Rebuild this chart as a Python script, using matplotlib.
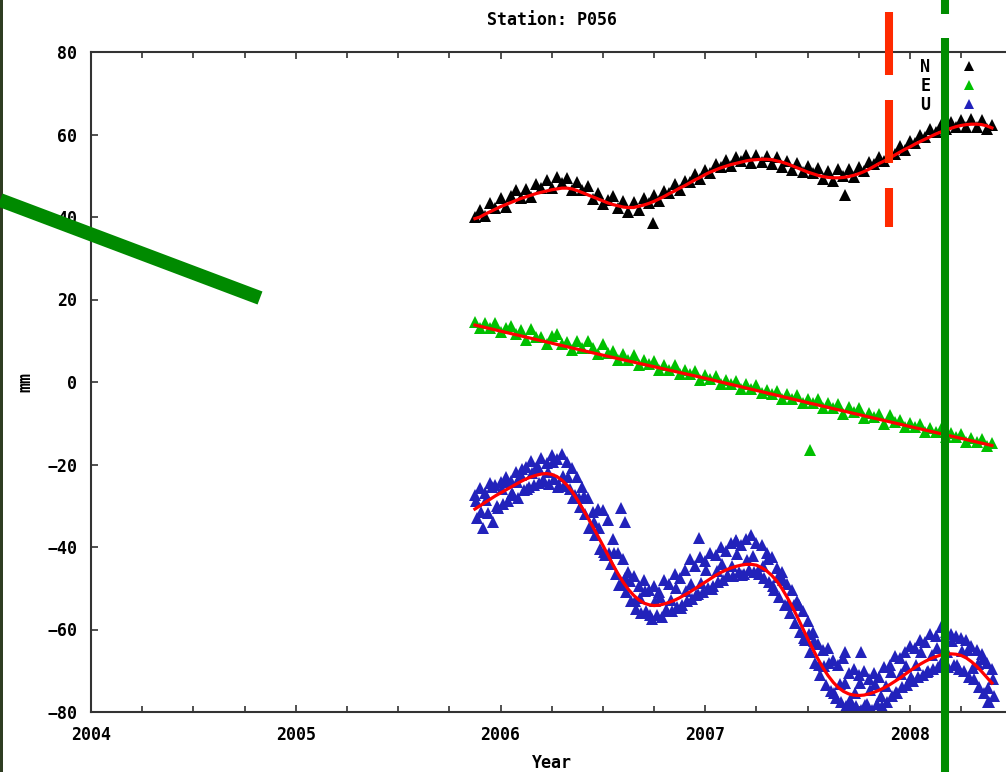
import numpy as np
import matplotlib
matplotlib.use("Agg")
import matplotlib.pyplot as plt
from matplotlib.lines import Line2D
from matplotlib.patches import Rectangle

years = np.round(np.arange(2005.875, 2008.4001, 0.025), 3)

north_obs = [40.1, 41.8, 40.2, 43.3, 42.2, 44.7, 42.4, 45.0, 46.6, 44.7,
             46.9, 44.9, 48.0, 47.0, 48.9, 47.0, 49.6, 48.2, 49.5, 46.5,
             48.6, 46.5, 47.4, 44.4, 45.7, 43.1, 44.2, 45.0, 42.1, 43.9,
             41.1, 43.6, 41.8, 44.7, 43.5, 45.4, 43.9, 46.2, 45.7, 48.0,
             46.6, 48.8, 48.5, 50.5, 49.1, 51.5, 50.6, 52.8, 52.2, 53.9,
             52.3, 54.5, 53.5, 55.0, 53.0, 55.1, 53.4, 54.8, 52.9, 54.6,
             52.1, 53.5, 51.4, 53.1, 50.9, 52.4, 50.7, 51.9, 49.2, 51.2,
             48.7, 51.7, 50.0, 51.6, 49.7, 52.1, 51.1, 53.4, 52.8, 54.6,
             53.6, 55.8, 55.3, 57.1, 56.2, 58.5, 57.9, 59.9, 59.3, 61.3,
             60.6, 62.2, 61.4, 63.0, 61.9, 63.4, 61.9, 63.8, 61.9, 63.6,
             61.3, 62.2]
north_fit = [39.6, 40.0, 40.7, 41.3, 41.9, 42.5, 43.0, 43.5, 44.0, 44.5,
             44.9, 45.3, 45.7, 46.0, 46.3, 46.6, 46.8, 47.0, 47.0, 46.8,
             46.4, 45.9, 45.4, 44.9, 44.4, 43.9, 43.4, 43.0, 42.7, 42.4,
             42.3, 42.3, 42.6, 42.9, 43.3, 43.8, 44.4, 45.0, 45.7, 46.3,
             47.0, 47.6, 48.3, 49.0, 49.6, 50.3, 50.9, 51.4, 51.9, 52.3,
             52.7, 53.0, 53.3, 53.6, 53.8, 53.9, 54.0, 54.0, 53.9, 53.6,
             53.3, 52.9, 52.4, 51.9, 51.4, 50.9, 50.5, 50.1, 49.8, 49.6,
             49.5, 49.5, 49.6, 49.8, 50.1, 50.5, 51.0, 51.6, 52.3, 53.0,
             53.6, 54.3, 55.0, 55.7, 56.4, 57.0, 57.7, 58.3, 58.9, 59.5,
             60.1, 60.6, 61.1, 61.5, 61.9, 62.2, 62.4, 62.5, 62.5, 62.4,
             62.1, 61.6]

east_obs = [14.6, 13.0, 14.4, 13.1, 14.2, 12.1, 13.0, 13.6, 11.6, 12.6,
            10.3, 12.8, 10.8, 11.0, 9.3, 11.1, 11.6, 9.2, 9.7, 7.8,
            9.9, 8.3, 10.0, 8.3, 6.8, 9.1, 7.1, 7.6, 5.4, 6.7,
            5.3, 6.6, 4.1, 5.4, 4.3, 5.2, 2.9, 4.1, 3.0, 4.1,
            1.9, 3.0, 1.9, 2.7, 0.6, 1.8, 0.7, 1.5, -0.6, 0.5,
            -0.6, 0.2, -1.7, -0.6, -1.6, -0.7, -2.7, -1.9, -3.0, -2.1,
            -4.1, -3.0, -4.0, -3.1, -5.2, -4.1, -5.0, -4.0, -6.2, -5.0,
            -6.4, -5.3, -7.7, -6.1, -7.3, -6.2, -8.7, -7.5, -8.6, -7.7,
            -10.1, -8.1, -9.7, -9.1, -11.0, -9.9, -10.9, -10.1, -12.2, -11.2,
            -12.2, -11.4, -13.3, -12.3, -13.3, -12.7, -14.5, -13.5, -14.6, -13.9,
            -15.6, -14.9]
east_fit_years = [2005.875, 2006.5, 2007.0, 2007.5, 2008.0, 2008.4]
east_fit = [13.8, 6.5, 0.9, -5.0, -10.8, -15.4]

up_obs_hi = [-27.5, -25.8, -27.0, -24.6, -25.0, -24.2, -23.0, -24.0, -21.8, -22.5,
             -20.5, -19.2, -20.8, -18.5, -19.6, -17.8, -18.6, -17.5, -19.5, -20.8,
             -23.0, -25.5, -28.0, -31.5, -30.8, -31.0, -33.5, -38.0, -41.5, -43.0,
             -46.0, -47.0, -49.5, -48.0, -50.5, -49.5, -51.0, -48.0, -49.0, -46.5,
             -47.5, -45.5, -43.0, -44.5, -42.5, -43.5, -41.5, -42.0, -40.0, -41.0,
             -39.0, -38.5, -39.5, -38.0, -37.0, -39.0, -39.5, -41.5, -42.5, -45.0,
             -46.0, -49.0, -50.5, -53.0, -55.5, -58.0, -60.5, -63.5, -65.0, -64.5,
             -67.5, -68.5, -67.0, -70.5, -69.5, -71.0, -70.0, -72.0, -70.5, -71.5,
             -69.0, -68.5, -66.5, -67.0, -65.5, -64.0, -64.5, -62.5, -63.0, -61.0,
             -61.5, -59.5, -60.5, -61.0, -61.5, -62.0, -62.5, -64.0, -65.0, -66.0,
             -68.0, -69.5]
up_obs_mid = [-28.8, -31.5, -28.7, -25.4, -30.1, -25.9, -24.2, -27.0, -24.3, -21.1,
              -26.0, -22.0, -20.6, -23.8, -21.7, -19.4, -25.4, -22.8, -23.0, -28.1,
              -28.0, -27.6, -35.3, -34.0, -35.3, -41.1, -41.5, -41.4, -49.1, -47.6,
              -48.3, -53.2, -52.3, -50.6, -56.5, -53.2, -52.1, -55.3, -52.9, -49.9,
              -54.8, -50.6, -48.9, -51.6, -48.8, -45.5, -50.2, -45.9, -44.2, -47.1,
              -44.6, -41.7, -46.9, -43.2, -42.2, -45.9, -44.5, -42.8, -49.4, -47.3,
              -48.1, -53.7, -54.0, -54.0, -62.1, -61.2, -62.7, -68.6, -68.8, -68.2,
              -75.3, -73.1, -73.0, -77.1, -75.4, -73.0, -78.4, -74.6, -73.2, -76.2,
              -73.6, -70.4, -75.1, -70.8, -68.9, -71.5, -68.7, -65.4, -70.2, -66.1,
              -64.6, -67.7, -65.5, -62.9, -68.5, -65.3, -64.9, -69.3, -68.4, -67.2,
              -74.1, -72.0]
up_obs_lo = [-33.0, -35.5, -31.8, -34.0, -30.5, -29.6, -28.8, -27.5, -28.0, -26.2,
             -25.5, -25.0, -24.6, -24.0, -24.8, -23.5, -25.0, -25.2, -26.0, -27.5,
             -30.2, -32.0, -35.5, -37.2, -40.5, -42.0, -44.0, -46.5, -49.0, -51.0,
             -53.0, -55.0, -56.0, -55.5, -57.5, -56.5, -57.0, -55.5, -55.5, -54.5,
             -54.0, -53.0, -52.5, -51.5, -51.0, -50.0, -49.5, -48.5, -48.0, -47.0,
             -47.0, -46.0, -46.5, -45.5, -46.0, -46.5, -47.5, -48.5, -50.5, -52.0,
             -54.0, -56.0, -58.5, -60.5, -62.5, -65.5, -68.0, -71.0, -73.5, -75.0,
             -76.5, -77.5, -78.5, -79.0, -78.5, -79.5, -78.0, -79.5, -78.0, -78.5,
             -77.5, -76.0, -75.5, -74.0, -73.5, -72.5, -71.5, -71.0, -70.0, -69.5,
             -69.0, -68.5, -69.0, -68.5, -69.5, -70.0, -71.5, -72.0, -74.0, -75.5,
             -77.5, -76.0]
up_fit = [-30.8, -30.0, -29.2, -28.4, -27.6, -26.9, -26.2, -25.5, -24.8, -24.1,
          -23.5, -23.0, -22.6, -22.3, -22.2, -22.4, -22.9, -23.8, -25.0, -26.6,
          -28.5, -30.6, -32.8, -35.0, -37.3, -39.6, -42.0, -44.4, -46.6, -48.6,
          -50.3, -51.7, -52.8, -53.6, -54.0, -54.2, -54.1, -53.8, -53.4, -52.9,
          -52.3, -51.6, -50.9, -50.1, -49.3, -48.5, -47.7, -46.9, -46.2, -45.6,
          -45.1, -44.7, -44.4, -44.2, -44.2, -44.4, -45.0, -45.8, -46.9, -48.3,
          -50.1, -52.2, -54.5, -57.0, -59.6, -62.2, -64.7, -67.1, -69.3, -71.2,
          -72.8, -74.1, -75.0, -75.6, -75.9, -76.0, -75.9, -75.6, -75.2, -74.7,
          -74.1, -73.4, -72.6, -71.8, -70.9, -70.0, -69.2, -68.4, -67.7, -67.1,
          -66.6, -66.2, -66.0, -65.9, -66.0, -66.3, -66.9, -67.8, -68.9, -70.2,
          -71.6, -73.0]

# isolated outliers
north_out_years = [2006.745, 2007.68]
north_out = [38.5, 45.3]
east_out_years = [2007.51]
east_out = [-16.5]
up_out_years = [2006.59, 2006.61, 2006.97, 2007.15, 2007.68, 2007.76, 2008.38]
up_out = [-30.5, -34.0, -37.8, -38.3, -65.5, -65.5, -77.5]

W, H = 1006, 772
plt.rcParams['font.family'] = 'DejaVu Sans Mono'
plt.rcParams['font.weight'] = 'bold'
fig = plt.figure(figsize=(W / 100, H / 100), dpi=100)
ax = fig.add_axes([91 / W, 60 / H, 921.4 / W, 660 / H])

ms = 8.5
c_n, c_e, c_u = '#000000', '#00c000', '#2222bb'
hn, = ax.plot(years, north_obs, '^', color=c_n, ms=ms, mew=0)
ax.plot(north_out_years, north_out, '^', color=c_n, ms=ms, mew=0)
he, = ax.plot(years, east_obs, '^', color=c_e, ms=ms, mew=0)
ax.plot(east_out_years, east_out, '^', color=c_e, ms=ms, mew=0)
hu, = ax.plot(years, up_obs_hi, '^', color=c_u, ms=ms, mew=0)
ax.plot(years + 0.006, up_obs_mid, '^', color=c_u, ms=ms, mew=0)
ax.plot(years + 0.0125, up_obs_lo, '^', color=c_u, ms=ms, mew=0)
ax.plot(up_out_years, up_out, '^', color=c_u, ms=ms, mew=0)

ax.plot(years, north_fit, '-', color='#ff0000', lw=2.3)
ax.plot(east_fit_years, east_fit, '-', color='#ff0000', lw=2.3)
ax.plot(years, up_fit, '-', color='#ff0000', lw=2.3)

ax.set_xlim(2004, 2008.5)
ax.set_ylim(-80, 80)
ax.set_xticks([2004, 2005, 2006, 2007, 2008])
ax.set_xticks(np.arange(2004, 2008.5, 0.25), minor=True)
ax.set_yticks(np.arange(-80, 81, 20))
ax.tick_params(which='both', direction='in', top=True, right=False,
               color='#333333', width=1.2, labelsize=12)
ax.tick_params(which='major', length=5)
ax.tick_params(which='minor', length=4)
ax.tick_params(axis='x', pad=10)
ax.tick_params(axis='y', pad=10)
for s in ax.spines.values():
    s.set_color('#333333')
    s.set_linewidth(1.5)

ax.legend([hn, he, hu], ['N', 'E', 'U'], markerfirst=False, frameon=False,
          loc='upper right', bbox_to_anchor=(977 / W, 1 - 58 / H),
          bbox_transform=fig.transFigure, borderpad=0, borderaxespad=0,
          handlelength=1, handletextpad=1.8, labelspacing=0.05,
          prop={'family': 'DejaVu Sans Mono', 'weight': 'bold', 'size': 12})
leg = ax.get_legend()
for h in leg.legend_handles:
    h.set_markersize(6.5)

fig.text(552 / W, 1 - 20 / H, 'Station: P056', ha='center', va='center', fontsize=12)
fig.text(552 / W, 1 - 763 / H, 'Year', ha='center', va='center', fontsize=12)
fig.text(25 / W, 1 - 382 / H, 'mm', ha='center', va='center', rotation=90, fontsize=12)

# hand-drawn overlays on top of the plot
fig.add_artist(Rectangle((0, 0), 3 / W, 1, transform=fig.transFigure,
                         color='#2f3d22', lw=0))
fig.add_artist(Line2D([0, 260 / W], [1 - 200 / H, 1 - 298 / H],
                      transform=fig.transFigure, color='#008a00', lw=10,
                      solid_capstyle='butt'))
for y0, y1 in [(12, 75), (100, 163), (188, 227)]:
    fig.add_artist(Line2D([889 / W, 889 / W], [1 - y0 / H, 1 - y1 / H],
                          transform=fig.transFigure, color='#ff2a00', lw=5.8,
                          solid_capstyle='butt'))
for y0, y1 in [(0, 14), (38, 772)]:
    fig.add_artist(Line2D([945 / W, 945 / W], [1 - y0 / H, 1 - y1 / H],
                          transform=fig.transFigure, color='#008c00', lw=5.8,
                          solid_capstyle='butt'))

fig.savefig('out.png', dpi=100)
